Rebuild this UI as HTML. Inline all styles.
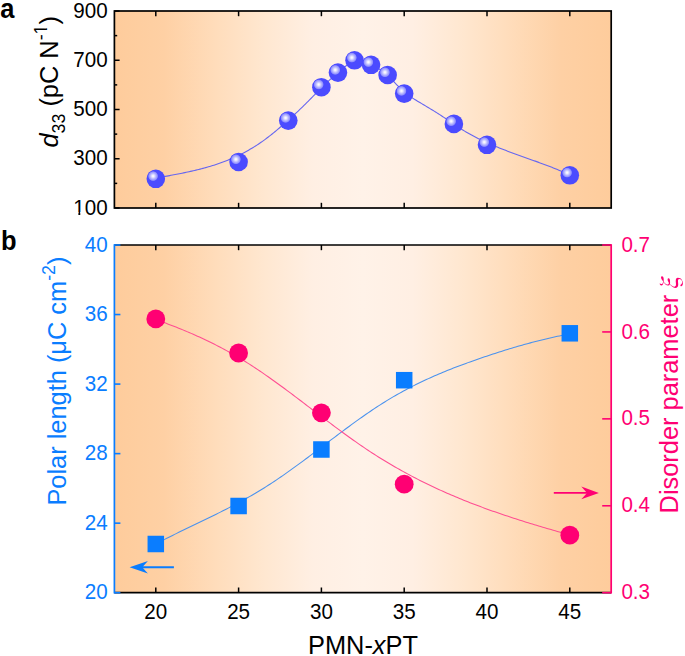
<!DOCTYPE html>
<html><head><meta charset="utf-8"><style>
html,body{margin:0;padding:0;background:#fff;}
body{width:685px;height:656px;overflow:hidden;font-family:"Liberation Sans",sans-serif;}
svg{display:block;}
</style></head><body>
<svg width="685" height="656" viewBox="0 0 685 656">
<defs>
<linearGradient id="bg" x1="0" y1="0" x2="1" y2="0"><stop offset="0" stop-color="#FECC9C"/><stop offset="0.1" stop-color="#FED0A4"/><stop offset="0.2" stop-color="#FFDCBA"/><stop offset="0.3" stop-color="#FFE7D0"/><stop offset="0.4" stop-color="#FFEFE3"/><stop offset="0.5" stop-color="#FFF2E8"/><stop offset="0.6" stop-color="#FFEFE3"/><stop offset="0.7" stop-color="#FFE7D0"/><stop offset="0.8" stop-color="#FFDCBA"/><stop offset="0.9" stop-color="#FED0A4"/><stop offset="1" stop-color="#FECC9C"/></linearGradient>
<radialGradient id="hl" cx="0.5" cy="0.5" r="0.5"><stop offset="0" stop-color="#FFFFFF"/><stop offset="0.18" stop-color="#F0F0FF"/><stop offset="0.55" stop-color="#B6B6FF"/><stop offset="0.82" stop-color="#9090FF"/><stop offset="0.94" stop-color="#6262FF"/><stop offset="1" stop-color="#4B4BFF"/></radialGradient>
</defs>
<rect width="685" height="656" fill="#fff"/>
<rect x="114.4" y="11.0" width="496.80000000000007" height="197.0" fill="url(#bg)"/>
<rect x="114.4" y="245.0" width="496.80000000000007" height="347.70000000000005" fill="url(#bg)"/>
<polyline points="155.80,178.19 157.18,177.92 158.57,177.66 159.95,177.40 161.34,177.14 162.72,176.89 164.11,176.63 165.49,176.37 166.88,176.11 168.26,175.85 169.65,175.59 171.03,175.33 172.42,175.07 173.80,174.81 175.19,174.54 176.57,174.27 177.96,174.00 179.34,173.73 180.73,173.45 182.11,173.17 183.50,172.89 184.88,172.60 186.27,172.31 187.65,172.02 189.04,171.72 190.42,171.41 191.81,171.10 193.19,170.78 194.58,170.46 195.96,170.13 197.35,169.79 198.73,169.45 200.12,169.10 201.50,168.74 202.89,168.38 204.27,168.01 205.66,167.63 207.04,167.24 208.43,166.84 209.81,166.43 211.20,166.01 212.58,165.59 213.97,165.15 215.35,164.70 216.74,164.25 218.12,163.78 219.51,163.30 220.89,162.81 222.28,162.31 223.66,161.79 225.05,161.27 226.43,160.73 227.82,160.17 229.20,159.61 230.59,159.03 231.97,158.44 233.36,157.83 234.74,157.21 236.13,156.57 237.51,155.92 238.90,155.26 240.28,154.58 241.67,153.88 243.05,153.17 244.44,152.44 245.82,151.69 247.21,150.93 248.59,150.15 249.98,149.35 251.36,148.54 252.75,147.71 254.13,146.85 255.52,145.98 256.90,145.10 258.29,144.19 259.67,143.26 261.06,142.31 262.44,141.34 263.83,140.35 265.21,139.34 266.60,138.30 267.98,137.25 269.37,136.17 270.75,135.08 272.14,133.97 273.52,132.85 274.91,131.71 276.29,130.56 277.68,129.39 279.06,128.22 280.45,127.04 281.83,125.85 283.22,124.66 284.60,123.45 285.99,122.24 287.37,121.02 288.76,119.78 290.14,118.54 291.53,117.28 292.91,116.01 294.29,114.73 295.68,113.43 297.06,112.12 298.45,110.80 299.83,109.47 301.22,108.12 302.60,106.77 303.99,105.40 305.37,104.04 306.76,102.66 308.14,101.28 309.53,99.89 310.91,98.51 312.30,97.12 313.68,95.73 315.07,94.34 316.45,92.95 317.84,91.57 319.22,90.18 320.61,88.81 321.99,87.43 323.38,86.07 324.76,84.71 326.15,83.37 327.53,82.03 328.92,80.70 330.30,79.39 331.69,78.09 333.07,76.80 334.46,75.53 335.84,74.28 337.23,73.04 338.61,71.82 340.00,70.63 341.38,69.46 342.77,68.34 344.15,67.27 345.54,66.26 346.92,65.32 348.31,64.46 349.69,63.68 351.08,62.99 352.46,62.42 353.85,61.95 355.23,61.61 356.62,61.39 358.00,61.28 359.39,61.28 360.77,61.37 362.16,61.57 363.54,61.84 364.93,62.20 366.31,62.62 367.70,63.11 369.08,63.66 370.47,64.26 371.85,64.90 373.24,65.58 374.62,66.31 376.01,67.08 377.39,67.90 378.78,68.77 380.16,69.69 381.55,70.66 382.93,71.69 384.32,72.77 385.70,73.92 387.09,75.12 388.47,76.39 389.86,77.72 391.24,79.09 392.63,80.50 394.01,81.93 395.40,83.37 396.78,84.81 398.17,86.24 399.55,87.64 400.94,89.01 402.32,90.32 403.71,91.58 405.09,92.76 406.48,93.87 407.86,94.91 409.25,95.89 410.63,96.83 412.02,97.73 413.40,98.61 414.79,99.47 416.17,100.31 417.56,101.16 418.94,101.99 420.33,102.82 421.71,103.65 423.10,104.48 424.48,105.30 425.87,106.13 427.25,106.95 428.64,107.78 430.02,108.62 431.41,109.45 432.79,110.29 434.17,111.14 435.56,112.00 436.94,112.86 438.33,113.74 439.71,114.62 441.10,115.52 442.48,116.43 443.87,117.36 445.25,118.30 446.64,119.25 448.02,120.22 449.41,121.18 450.79,122.15 452.18,123.12 453.56,124.07 454.95,125.01 456.33,125.93 457.72,126.83 459.10,127.72 460.49,128.59 461.87,129.45 463.26,130.29 464.64,131.12 466.03,131.93 467.41,132.73 468.80,133.51 470.18,134.28 471.57,135.04 472.95,135.78 474.34,136.51 475.72,137.23 477.11,137.94 478.49,138.64 479.88,139.32 481.26,140.00 482.65,140.66 484.03,141.31 485.42,141.95 486.80,142.59 488.19,143.21 489.57,143.83 490.96,144.43 492.34,145.03 493.73,145.62 495.11,146.20 496.50,146.77 497.88,147.34 499.27,147.90 500.65,148.46 502.04,149.00 503.42,149.55 504.81,150.08 506.19,150.61 507.58,151.14 508.96,151.66 510.35,152.18 511.73,152.69 513.12,153.20 514.50,153.71 515.89,154.21 517.27,154.72 518.66,155.21 520.04,155.71 521.43,156.21 522.81,156.70 524.20,157.19 525.58,157.69 526.97,158.18 528.35,158.67 529.74,159.16 531.12,159.66 532.51,160.15 533.89,160.65 535.28,161.14 536.66,161.64 538.05,162.14 539.43,162.65 540.82,163.15 542.20,163.66 543.59,164.18 544.97,164.69 546.36,165.21 547.74,165.74 549.13,166.27 550.51,166.80 551.90,167.35 553.28,167.89 554.67,168.44 556.05,169.00 557.44,169.57 558.82,170.14 560.21,170.72 561.59,171.31 562.98,171.91 564.36,172.51 565.75,173.12 567.13,173.75 568.52,174.38 569.90,175.02" fill="none" stroke="#6666F0" stroke-width="1.1"/>
<polyline points="155.90,543.92 157.98,542.82 160.06,541.74 162.14,540.67 164.22,539.60 166.30,538.55 168.38,537.50 170.46,536.46 172.54,535.42 174.62,534.39 176.70,533.36 178.78,532.34 180.86,531.33 182.95,530.32 185.03,529.31 187.11,528.30 189.19,527.30 191.27,526.29 193.35,525.29 195.43,524.29 197.51,523.29 199.59,522.29 201.67,521.28 203.75,520.28 205.83,519.27 207.91,518.26 209.99,517.24 212.07,516.23 214.15,515.20 216.23,514.18 218.31,513.15 220.39,512.11 222.47,511.06 224.55,510.01 226.63,508.95 228.71,507.88 230.79,506.80 232.87,505.72 234.96,504.62 237.04,503.52 239.12,502.40 241.20,501.27 243.28,500.13 245.36,498.98 247.44,497.81 249.52,496.63 251.60,495.44 253.68,494.23 255.76,493.00 257.84,491.76 259.92,490.51 262.00,489.24 264.08,487.95 266.16,486.64 268.24,485.31 270.32,483.97 272.40,482.61 274.48,481.23 276.56,479.84 278.64,478.43 280.72,477.00 282.80,475.57 284.88,474.12 286.97,472.65 289.05,471.18 291.13,469.69 293.21,468.19 295.29,466.69 297.37,465.17 299.45,463.65 301.53,462.11 303.61,460.58 305.69,459.03 307.77,457.48 309.85,455.92 311.93,454.36 314.01,452.79 316.09,451.22 318.17,449.65 320.25,448.08 322.33,446.50 324.41,444.93 326.49,443.35 328.57,441.78 330.65,440.20 332.73,438.63 334.81,437.06 336.89,435.50 338.98,433.93 341.06,432.38 343.14,430.83 345.22,429.28 347.30,427.74 349.38,426.21 351.46,424.69 353.54,423.17 355.62,421.67 357.70,420.17 359.78,418.69 361.86,417.21 363.94,415.75 366.02,414.30 368.10,412.87 370.18,411.45 372.26,410.04 374.34,408.65 376.42,407.27 378.50,405.91 380.58,404.57 382.66,403.25 384.74,401.94 386.82,400.66 388.91,399.39 390.99,398.14 393.07,396.92 395.15,395.71 397.23,394.51 399.31,393.34 401.39,392.18 403.47,391.04 405.55,389.92 407.63,388.82 409.71,387.73 411.79,386.65 413.87,385.60 415.95,384.56 418.03,383.53 420.11,382.52 422.19,381.52 424.27,380.54 426.35,379.57 428.43,378.61 430.51,377.67 432.59,376.74 434.67,375.82 436.75,374.92 438.83,374.03 440.92,373.15 443.00,372.28 445.08,371.42 447.16,370.57 449.24,369.74 451.32,368.91 453.40,368.09 455.48,367.29 457.56,366.49 459.64,365.70 461.72,364.92 463.80,364.15 465.88,363.39 467.96,362.63 470.04,361.89 472.12,361.15 474.20,360.41 476.28,359.69 478.36,358.96 480.44,358.25 482.52,357.54 484.60,356.84 486.68,356.14 488.76,355.45 490.84,354.76 492.93,354.08 495.01,353.40 497.09,352.73 499.17,352.06 501.25,351.40 503.33,350.75 505.41,350.11 507.49,349.46 509.57,348.83 511.65,348.20 513.73,347.58 515.81,346.97 517.89,346.37 519.97,345.77 522.05,345.18 524.13,344.59 526.21,344.01 528.29,343.45 530.37,342.88 532.45,342.33 534.53,341.79 536.61,341.25 538.69,340.72 540.77,340.20 542.85,339.69 544.94,339.19 547.02,338.69 549.10,338.21 551.18,337.73 553.26,337.26 555.34,336.80 557.42,336.35 559.50,335.90 561.58,335.42 563.66,334.91 565.74,334.36 567.82,333.75 569.90,333.06" fill="none" stroke="#4A92EE" stroke-width="1.05"/>
<polyline points="155.80,319.57 157.88,320.31 159.96,321.06 162.04,321.82 164.12,322.58 166.20,323.36 168.28,324.14 170.36,324.93 172.44,325.73 174.52,326.54 176.60,327.36 178.68,328.19 180.76,329.03 182.85,329.88 184.93,330.74 187.01,331.61 189.09,332.50 191.17,333.39 193.25,334.30 195.33,335.22 197.41,336.15 199.49,337.09 201.57,338.05 203.65,339.02 205.73,340.00 207.81,341.00 209.89,342.01 211.97,343.03 214.05,344.07 216.13,345.12 218.21,346.19 220.29,347.28 222.37,348.38 224.45,349.49 226.53,350.62 228.61,351.77 230.69,352.93 232.77,354.11 234.86,355.31 236.94,356.52 239.02,357.75 241.10,359.00 243.18,360.26 245.26,361.55 247.34,362.85 249.42,364.17 251.50,365.51 253.58,366.87 255.66,368.24 257.74,369.62 259.82,371.02 261.90,372.44 263.98,373.87 266.06,375.31 268.14,376.77 270.22,378.23 272.30,379.71 274.38,381.20 276.46,382.70 278.54,384.21 280.62,385.73 282.70,387.26 284.78,388.79 286.87,390.33 288.95,391.88 291.03,393.44 293.11,395.00 295.19,396.57 297.27,398.14 299.35,399.71 301.43,401.29 303.51,402.88 305.59,404.46 307.67,406.05 309.75,407.63 311.83,409.22 313.91,410.81 315.99,412.40 318.07,413.98 320.15,415.57 322.23,417.15 324.31,418.73 326.39,420.30 328.47,421.88 330.55,423.44 332.63,425.00 334.71,426.56 336.79,428.11 338.88,429.66 340.96,431.19 343.04,432.72 345.12,434.24 347.20,435.75 349.28,437.25 351.36,438.74 353.44,440.22 355.52,441.69 357.60,443.15 359.68,444.59 361.76,446.02 363.84,447.44 365.92,448.84 368.00,450.23 370.08,451.60 372.16,452.96 374.24,454.30 376.32,455.63 378.40,456.95 380.48,458.25 382.56,459.53 384.64,460.80 386.72,462.06 388.81,463.31 390.89,464.54 392.97,465.76 395.05,466.96 397.13,468.15 399.21,469.33 401.29,470.49 403.37,471.65 405.45,472.79 407.53,473.91 409.61,475.03 411.69,476.13 413.77,477.22 415.85,478.30 417.93,479.37 420.01,480.42 422.09,481.47 424.17,482.50 426.25,483.52 428.33,484.53 430.41,485.53 432.49,486.52 434.57,487.50 436.65,488.47 438.73,489.43 440.82,490.37 442.90,491.31 444.98,492.24 447.06,493.15 449.14,494.06 451.22,494.96 453.30,495.85 455.38,496.73 457.46,497.60 459.54,498.46 461.62,499.31 463.70,500.16 465.78,500.99 467.86,501.82 469.94,502.64 472.02,503.45 474.10,504.25 476.18,505.05 478.26,505.83 480.34,506.61 482.42,507.38 484.50,508.15 486.58,508.91 488.66,509.66 490.74,510.40 492.83,511.14 494.91,511.87 496.99,512.59 499.07,513.31 501.15,514.02 503.23,514.73 505.31,515.43 507.39,516.12 509.47,516.81 511.55,517.49 513.63,518.17 515.71,518.84 517.79,519.51 519.87,520.17 521.95,520.83 524.03,521.48 526.11,522.13 528.19,522.77 530.27,523.41 532.35,524.05 534.43,524.68 536.51,525.31 538.59,525.93 540.67,526.55 542.75,527.17 544.84,527.78 546.92,528.40 549.00,529.00 551.08,529.61 553.16,530.21 555.24,530.81 557.32,531.41 559.40,532.00 561.48,532.60 563.56,533.19 565.64,533.78 567.72,534.36 569.80,534.95" fill="none" stroke="#FF4E92" stroke-width="1.05"/>
<circle cx="155.80" cy="178.80" r="9.3" fill="#4B4BFF"/>
<circle cx="153.10" cy="176.10" r="5.2" fill="url(#hl)"/>
<circle cx="238.60" cy="162.00" r="9.3" fill="#4B4BFF"/>
<circle cx="235.90" cy="159.30" r="5.2" fill="url(#hl)"/>
<circle cx="288.28" cy="120.60" r="9.3" fill="#4B4BFF"/>
<circle cx="285.58" cy="117.90" r="5.2" fill="url(#hl)"/>
<circle cx="321.40" cy="87.20" r="9.3" fill="#4B4BFF"/>
<circle cx="318.70" cy="84.50" r="5.2" fill="url(#hl)"/>
<circle cx="337.96" cy="72.60" r="9.3" fill="#4B4BFF"/>
<circle cx="335.26" cy="69.90" r="5.2" fill="url(#hl)"/>
<circle cx="354.52" cy="60.30" r="9.3" fill="#4B4BFF"/>
<circle cx="351.82" cy="57.60" r="5.2" fill="url(#hl)"/>
<circle cx="371.08" cy="64.80" r="9.3" fill="#4B4BFF"/>
<circle cx="368.38" cy="62.10" r="5.2" fill="url(#hl)"/>
<circle cx="387.64" cy="75.00" r="9.3" fill="#4B4BFF"/>
<circle cx="384.94" cy="72.30" r="5.2" fill="url(#hl)"/>
<circle cx="404.20" cy="93.60" r="9.3" fill="#4B4BFF"/>
<circle cx="401.50" cy="90.90" r="5.2" fill="url(#hl)"/>
<circle cx="453.88" cy="123.90" r="9.3" fill="#4B4BFF"/>
<circle cx="451.18" cy="121.20" r="5.2" fill="url(#hl)"/>
<circle cx="487.00" cy="144.80" r="9.3" fill="#4B4BFF"/>
<circle cx="484.30" cy="142.10" r="5.2" fill="url(#hl)"/>
<circle cx="569.80" cy="175.30" r="9.3" fill="#4B4BFF"/>
<circle cx="567.10" cy="172.60" r="5.2" fill="url(#hl)"/>
<circle cx="155.80" cy="318.90" r="9.4" fill="#FF0073"/>
<circle cx="238.60" cy="353.00" r="9.4" fill="#FF0073"/>
<circle cx="321.40" cy="412.80" r="9.4" fill="#FF0073"/>
<circle cx="404.20" cy="484.20" r="9.4" fill="#FF0073"/>
<circle cx="569.80" cy="535.20" r="9.4" fill="#FF0073"/>
<rect x="147.55" y="535.75" width="16.5" height="16.5" fill="#0A7DFF"/>
<rect x="230.35" y="497.75" width="16.5" height="16.5" fill="#0A7DFF"/>
<rect x="313.15" y="441.25" width="16.5" height="16.5" fill="#0A7DFF"/>
<rect x="395.95" y="371.95" width="16.5" height="16.5" fill="#0A7DFF"/>
<rect x="561.55" y="325.05" width="16.5" height="16.5" fill="#0A7DFF"/>
<line x1="140" y1="567.2" x2="173.9" y2="567.2" stroke="#0A7DFF" stroke-width="1.9"/>
<path d="M129.6,567.2 L147.9,561.0 L142.3,567.2 L147.9,573.6 Z" fill="#0A7DFF"/>
<line x1="553.8" y1="492.9" x2="588" y2="492.9" stroke="#FF0073" stroke-width="1.9"/>
<path d="M598.9,492.9 L581.3,486.6 L587,492.9 L581.3,499.2 Z" fill="#FF0073"/>
<rect x="114.4" y="11.0" width="496.80000000000007" height="197.0" fill="none" stroke="#000" stroke-width="1.7"/>
<line x1="155.80" y1="11.0" x2="155.80" y2="16.2" stroke="#000" stroke-width="1.5"/>
<line x1="155.80" y1="208.0" x2="155.80" y2="202.8" stroke="#000" stroke-width="1.5"/>
<line x1="238.60" y1="11.0" x2="238.60" y2="16.2" stroke="#000" stroke-width="1.5"/>
<line x1="238.60" y1="208.0" x2="238.60" y2="202.8" stroke="#000" stroke-width="1.5"/>
<line x1="321.40" y1="11.0" x2="321.40" y2="16.2" stroke="#000" stroke-width="1.5"/>
<line x1="321.40" y1="208.0" x2="321.40" y2="202.8" stroke="#000" stroke-width="1.5"/>
<line x1="404.20" y1="11.0" x2="404.20" y2="16.2" stroke="#000" stroke-width="1.5"/>
<line x1="404.20" y1="208.0" x2="404.20" y2="202.8" stroke="#000" stroke-width="1.5"/>
<line x1="487.00" y1="11.0" x2="487.00" y2="16.2" stroke="#000" stroke-width="1.5"/>
<line x1="487.00" y1="208.0" x2="487.00" y2="202.8" stroke="#000" stroke-width="1.5"/>
<line x1="569.80" y1="11.0" x2="569.80" y2="16.2" stroke="#000" stroke-width="1.5"/>
<line x1="569.80" y1="208.0" x2="569.80" y2="202.8" stroke="#000" stroke-width="1.5"/>
<line x1="114.4" y1="208.00" x2="119.60000000000001" y2="208.00" stroke="#000" stroke-width="1.5"/>
<line x1="114.4" y1="183.38" x2="117.2" y2="183.38" stroke="#000" stroke-width="1.5"/>
<line x1="114.4" y1="158.75" x2="119.60000000000001" y2="158.75" stroke="#000" stroke-width="1.5"/>
<line x1="114.4" y1="134.12" x2="117.2" y2="134.12" stroke="#000" stroke-width="1.5"/>
<line x1="114.4" y1="109.50" x2="119.60000000000001" y2="109.50" stroke="#000" stroke-width="1.5"/>
<line x1="114.4" y1="84.88" x2="117.2" y2="84.88" stroke="#000" stroke-width="1.5"/>
<line x1="114.4" y1="60.25" x2="119.60000000000001" y2="60.25" stroke="#000" stroke-width="1.5"/>
<line x1="114.4" y1="35.62" x2="117.2" y2="35.62" stroke="#000" stroke-width="1.5"/>
<line x1="114.4" y1="11.00" x2="119.60000000000001" y2="11.00" stroke="#000" stroke-width="1.5"/>
<line x1="114.4" y1="245.0" x2="611.2" y2="245.0" stroke="#000" stroke-width="1.7"/>
<line x1="114.4" y1="592.7" x2="611.2" y2="592.7" stroke="#000" stroke-width="1.7"/>
<line x1="155.80" y1="245.0" x2="155.80" y2="250.2" stroke="#000" stroke-width="1.5"/>
<line x1="155.80" y1="592.7" x2="155.80" y2="587.5" stroke="#000" stroke-width="1.5"/>
<line x1="238.60" y1="245.0" x2="238.60" y2="250.2" stroke="#000" stroke-width="1.5"/>
<line x1="238.60" y1="592.7" x2="238.60" y2="587.5" stroke="#000" stroke-width="1.5"/>
<line x1="321.40" y1="245.0" x2="321.40" y2="250.2" stroke="#000" stroke-width="1.5"/>
<line x1="321.40" y1="592.7" x2="321.40" y2="587.5" stroke="#000" stroke-width="1.5"/>
<line x1="404.20" y1="245.0" x2="404.20" y2="250.2" stroke="#000" stroke-width="1.5"/>
<line x1="404.20" y1="592.7" x2="404.20" y2="587.5" stroke="#000" stroke-width="1.5"/>
<line x1="487.00" y1="245.0" x2="487.00" y2="250.2" stroke="#000" stroke-width="1.5"/>
<line x1="487.00" y1="592.7" x2="487.00" y2="587.5" stroke="#000" stroke-width="1.5"/>
<line x1="569.80" y1="245.0" x2="569.80" y2="250.2" stroke="#000" stroke-width="1.5"/>
<line x1="569.80" y1="592.7" x2="569.80" y2="587.5" stroke="#000" stroke-width="1.5"/>
<line x1="114.4" y1="244.15" x2="114.4" y2="593.5500000000001" stroke="#0A7DFF" stroke-width="1.7"/>
<line x1="611.2" y1="244.15" x2="611.2" y2="593.5500000000001" stroke="#FF0073" stroke-width="1.7"/>
<line x1="114.4" y1="592.70" x2="120.4" y2="592.70" stroke="#0A7DFF" stroke-width="1.6"/>
<line x1="114.4" y1="523.16" x2="120.4" y2="523.16" stroke="#0A7DFF" stroke-width="1.6"/>
<line x1="114.4" y1="453.62" x2="120.4" y2="453.62" stroke="#0A7DFF" stroke-width="1.6"/>
<line x1="114.4" y1="384.08" x2="120.4" y2="384.08" stroke="#0A7DFF" stroke-width="1.6"/>
<line x1="114.4" y1="314.54" x2="120.4" y2="314.54" stroke="#0A7DFF" stroke-width="1.6"/>
<line x1="114.4" y1="245.00" x2="120.4" y2="245.00" stroke="#0A7DFF" stroke-width="1.6"/>
<line x1="611.2" y1="592.70" x2="602.2" y2="592.70" stroke="#FF0073" stroke-width="1.6"/>
<line x1="611.2" y1="505.77" x2="602.2" y2="505.77" stroke="#FF0073" stroke-width="1.6"/>
<line x1="611.2" y1="418.85" x2="602.2" y2="418.85" stroke="#FF0073" stroke-width="1.6"/>
<line x1="611.2" y1="331.93" x2="602.2" y2="331.93" stroke="#FF0073" stroke-width="1.6"/>
<line x1="611.2" y1="245.00" x2="602.2" y2="245.00" stroke="#FF0073" stroke-width="1.6"/>
<text transform="translate(107.60,214.60) scale(1,1.1)" font-family="'Liberation Sans', sans-serif" font-size="20.6" text-anchor="end" fill="#000">100</text>
<text transform="translate(107.60,165.35) scale(1,1.1)" font-family="'Liberation Sans', sans-serif" font-size="20.6" text-anchor="end" fill="#000">300</text>
<text transform="translate(107.60,116.10) scale(1,1.1)" font-family="'Liberation Sans', sans-serif" font-size="20.6" text-anchor="end" fill="#000">500</text>
<text transform="translate(107.60,66.85) scale(1,1.1)" font-family="'Liberation Sans', sans-serif" font-size="20.6" text-anchor="end" fill="#000">700</text>
<text transform="translate(107.60,17.60) scale(1,1.1)" font-family="'Liberation Sans', sans-serif" font-size="20.6" text-anchor="end" fill="#000">900</text>
<rect x="73.83" y="212.06" width="4.55" height="3.74" fill="#fff"/>
<rect x="80.27" y="212.06" width="4.22" height="3.74" fill="#fff"/>
<text transform="translate(107.60,599.30) scale(1,1.1)" font-family="'Liberation Sans', sans-serif" font-size="20.6" text-anchor="end" fill="#0A7DFF">20</text>
<text transform="translate(107.60,529.76) scale(1,1.1)" font-family="'Liberation Sans', sans-serif" font-size="20.6" text-anchor="end" fill="#0A7DFF">24</text>
<text transform="translate(107.60,460.22) scale(1,1.1)" font-family="'Liberation Sans', sans-serif" font-size="20.6" text-anchor="end" fill="#0A7DFF">28</text>
<text transform="translate(107.60,390.68) scale(1,1.1)" font-family="'Liberation Sans', sans-serif" font-size="20.6" text-anchor="end" fill="#0A7DFF">32</text>
<text transform="translate(107.60,321.14) scale(1,1.1)" font-family="'Liberation Sans', sans-serif" font-size="20.6" text-anchor="end" fill="#0A7DFF">36</text>
<text transform="translate(107.60,251.60) scale(1,1.1)" font-family="'Liberation Sans', sans-serif" font-size="20.6" text-anchor="end" fill="#0A7DFF">40</text>
<text transform="translate(621.40,599.30) scale(1,1.1)" font-family="'Liberation Sans', sans-serif" font-size="20.6" text-anchor="start" fill="#FF0073">0.3</text>
<text transform="translate(621.40,512.38) scale(1,1.1)" font-family="'Liberation Sans', sans-serif" font-size="20.6" text-anchor="start" fill="#FF0073">0.4</text>
<text transform="translate(621.40,425.45) scale(1,1.1)" font-family="'Liberation Sans', sans-serif" font-size="20.6" text-anchor="start" fill="#FF0073">0.5</text>
<text transform="translate(621.40,338.53) scale(1,1.1)" font-family="'Liberation Sans', sans-serif" font-size="20.6" text-anchor="start" fill="#FF0073">0.6</text>
<text transform="translate(621.40,251.60) scale(1,1.1)" font-family="'Liberation Sans', sans-serif" font-size="20.6" text-anchor="start" fill="#FF0073">0.7</text>
<text transform="translate(155.80,618.50) scale(1,1.1)" font-family="'Liberation Sans', sans-serif" font-size="20.6" text-anchor="middle" fill="#000">20</text>
<text transform="translate(238.60,618.50) scale(1,1.1)" font-family="'Liberation Sans', sans-serif" font-size="20.6" text-anchor="middle" fill="#000">25</text>
<text transform="translate(321.40,618.50) scale(1,1.1)" font-family="'Liberation Sans', sans-serif" font-size="20.6" text-anchor="middle" fill="#000">30</text>
<text transform="translate(404.20,618.50) scale(1,1.1)" font-family="'Liberation Sans', sans-serif" font-size="20.6" text-anchor="middle" fill="#000">35</text>
<text transform="translate(487.00,618.50) scale(1,1.1)" font-family="'Liberation Sans', sans-serif" font-size="20.6" text-anchor="middle" fill="#000">40</text>
<text transform="translate(569.80,618.50) scale(1,1.1)" font-family="'Liberation Sans', sans-serif" font-size="20.6" text-anchor="middle" fill="#000">45</text>
<text transform="translate(57.9,147.6) rotate(-90) scale(1,1.035)" font-family="'Liberation Sans', sans-serif" font-size="25.4" fill="#000"><tspan font-style="italic">d</tspan><tspan font-size="17.8" dy="6.6">33</tspan><tspan dy="-6.6"> (pC N</tspan><tspan font-size="17.8" dy="-10.6">-1</tspan><tspan dy="10.6">)</tspan></text>
<g transform="translate(57.9,147.6) rotate(-90) scale(1,1.035)"><rect x="113.69" y="-12.69" width="3.93" height="3.29" fill="#fff"/><rect x="119.25" y="-12.69" width="3.65" height="3.29" fill="#fff"/></g>
<text transform="translate(66.1,505.6) rotate(-90) scale(1,1.035)" font-family="'Liberation Sans', sans-serif" font-size="25.4" fill="#0A7DFF">Polar length (μC cm<tspan font-size="17.8" dy="-10.6">-2</tspan><tspan dy="10.6">)</tspan></text>
<text transform="translate(678.1,513.4) rotate(-90) scale(1,1.035)" font-family="'Liberation Sans', sans-serif" font-size="25.4" fill="#FF0073">Disorder parameter</text>
<path transform="translate(678.1,288.17) rotate(-90) scale(0.0269,-0.0269)" d="M340 -43Q340 -17 324.0 -6.5Q308 4 268 4Q253 4 203.0 -0.5Q153 -5 135 -5Q10 -5 10 108Q10 163 59.5 225.0Q109 287 146 308Q97 320 97 375Q97 423 138.5 469.0Q180 515 226 540Q179 545 138.0 566.0Q97 587 97 622Q97 654 123.5 669.0Q150 684 176 684L187 666Q151 657 151 622Q151 589 184.0 573.5Q217 558 249 557Q260 564 285.5 581.5Q311 599 325.5 608.5Q340 618 359.5 626.0Q379 634 394 634Q419 634 432.0 624.5Q445 615 445 599Q445 570 411.5 552.0Q378 534 311 534Q283 534 250 537Q247 535 229.5 523.5Q212 512 203.5 505.5Q195 499 179.5 485.5Q164 472 156.0 460.5Q148 449 141.5 432.0Q135 415 135 397Q135 370 155.5 356.0Q176 342 196 342Q198 343 212.0 350.5Q226 358 237.5 363.5Q249 369 265.0 376.0Q281 383 295.5 387.0Q310 391 320 391Q369 391 369 353Q369 298 226 298Q208 298 168 302Q138 287 97.0 241.5Q56 196 56 149Q56 114 78.5 96.5Q101 79 138 79Q159 79 207.0 83.5Q255 88 266 88Q385 88 385 9Q385 -39 365.0 -76.5Q345 -114 313.0 -135.0Q281 -156 246.0 -167.0Q211 -178 176.0 -178.0Q141 -178 107.5 -161.5Q74 -145 74 -114Q74 -101 83.0 -92.5Q92 -84 102 -84Q130 -84 150 -118Q169 -152 217 -152Q263 -152 301.5 -120.5Q340 -89 340 -43Z" fill="#FF0073"/>
<text transform="translate(308,653.6) scale(1,1.035)" font-family="'Liberation Sans', sans-serif" font-size="25.4" fill="#000">PMN-<tspan font-style="italic">x</tspan>PT</text>
<text transform="translate(0.2,17.6) scale(1,1.07)" font-family="'Liberation Sans', sans-serif" font-size="25.5" font-weight="bold" fill="#000">a</text>
<text transform="translate(1.1,249.6) scale(1,1.07)" font-family="'Liberation Sans', sans-serif" font-size="25.5" font-weight="bold" fill="#000">b</text>
</svg>
</body></html>
